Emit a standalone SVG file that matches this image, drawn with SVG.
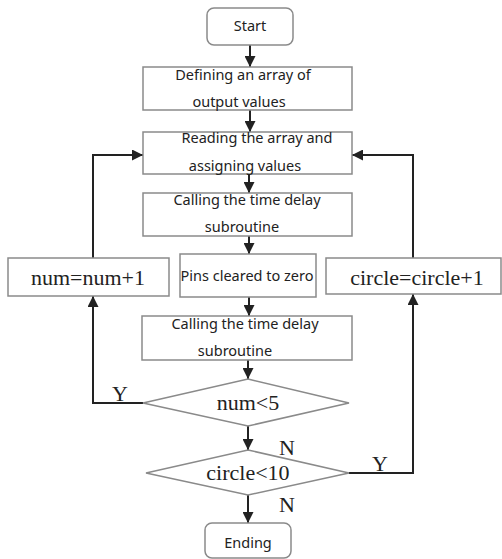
<svg xmlns="http://www.w3.org/2000/svg" width="502" height="559" viewBox="0 0 502 559">
<style>
.box{fill:#fff;stroke:#8a8a8a;stroke-width:1.5}
.t{font-family:"Noto Sans","Open Sans",sans-serif;font-size:14.5px;fill:#222;text-anchor:middle}
.s{font-family:"Liberation Serif","Times New Roman",serif;font-size:22px;fill:#222;text-anchor:middle}
.c{fill:none;stroke:#222;stroke-width:2}
</style>
<defs>
<marker id="ah" viewBox="0 0 10 10" refX="10" refY="5" markerWidth="5.5" markerHeight="5.5" orient="auto" markerUnits="strokeWidth">
<path d="M0,0 L10,5 L0,10 z" fill="#222"/>
</marker>
</defs>
<rect width="502" height="559" fill="#fff"/>
<g id="connectors">
<line class="c" x1="250" y1="45" x2="250" y2="67" marker-end="url(#ah)"/>
<line class="c" x1="250" y1="110" x2="250" y2="132" marker-end="url(#ah)"/>
<line class="c" x1="249" y1="174" x2="249" y2="193" marker-end="url(#ah)"/>
<line class="c" x1="249" y1="236" x2="249" y2="254" marker-end="url(#ah)"/>
<line class="c" x1="249" y1="297" x2="249" y2="316" marker-end="url(#ah)"/>
<line class="c" x1="248" y1="360" x2="248" y2="379" marker-end="url(#ah)"/>
<line class="c" x1="248" y1="426" x2="248" y2="450" marker-end="url(#ah)"/>
<line class="c" x1="248" y1="495" x2="248" y2="523" marker-end="url(#ah)"/>
<polyline class="c" points="93,258 93,155 143,155" marker-end="url(#ah)"/>
<polyline class="c" points="413,258 413,155 352,155" marker-end="url(#ah)"/>
<polyline class="c" points="143,403 93,403 93,296" marker-end="url(#ah)"/>
<polyline class="c" points="349,473 413,473 413,294" marker-end="url(#ah)"/>
<text class="s" x="120" y="401">Y</text>
<text class="s" x="287" y="455">N</text>
<text class="s" x="380" y="471">Y</text>
<text class="s" x="287" y="512">N</text>
</g>
<g id="start">
<rect class="box" x="207" y="8" width="86" height="37" rx="7"/>
<text class="t" x="250" y="31">Start</text>
</g>
<g id="define">
<rect class="box" x="143" y="67" width="209" height="43"/>
<text class="t" x="243" y="80">Defining an array of</text>
<text class="t" x="239" y="107">output values</text>
</g>
<g id="reading">
<rect class="box" x="143" y="132" width="209" height="42"/>
<text class="t" x="257" y="143">Reading the array and</text>
<text class="t" x="245" y="171">assigning values</text>
</g>
<g id="delay1">
<rect class="box" x="143" y="193" width="209" height="43"/>
<text class="t" x="247" y="205">Calling the time delay</text>
<text class="t" x="242" y="232">subroutine</text>
</g>
<g id="num">
<rect class="box" x="8" y="258" width="161" height="38"/>
<text class="s" x="88" y="285">num=num+1</text>
</g>
<g id="pins">
<rect class="box" x="180" y="254" width="136" height="43"/>
<text class="t" x="247" y="281">Pins cleared to zero</text>
</g>
<g id="circle">
<rect class="box" x="326" y="258" width="175" height="36"/>
<text class="s" x="417" y="285">circle=circle+1</text>
</g>
<g id="delay2">
<rect class="box" x="142" y="316" width="210" height="44"/>
<text class="t" x="245" y="329">Calling the time delay</text>
<text class="t" x="235" y="356">subroutine</text>
</g>
<g id="numcheck">
<polygon class="box" points="248,379 349,403 248,426 143,403"/>
<text class="s" x="248" y="410">num&lt;5</text>
</g>
<g id="circlecheck">
<polygon class="box" points="248,450 349,473 248,495 146,473"/>
<text class="s" x="248" y="480">circle&lt;10</text>
</g>
<g id="ending">
<rect class="box" x="205" y="523" width="86" height="35" rx="7"/>
<text class="t" x="248" y="548">Ending</text>
</g>
</svg>
